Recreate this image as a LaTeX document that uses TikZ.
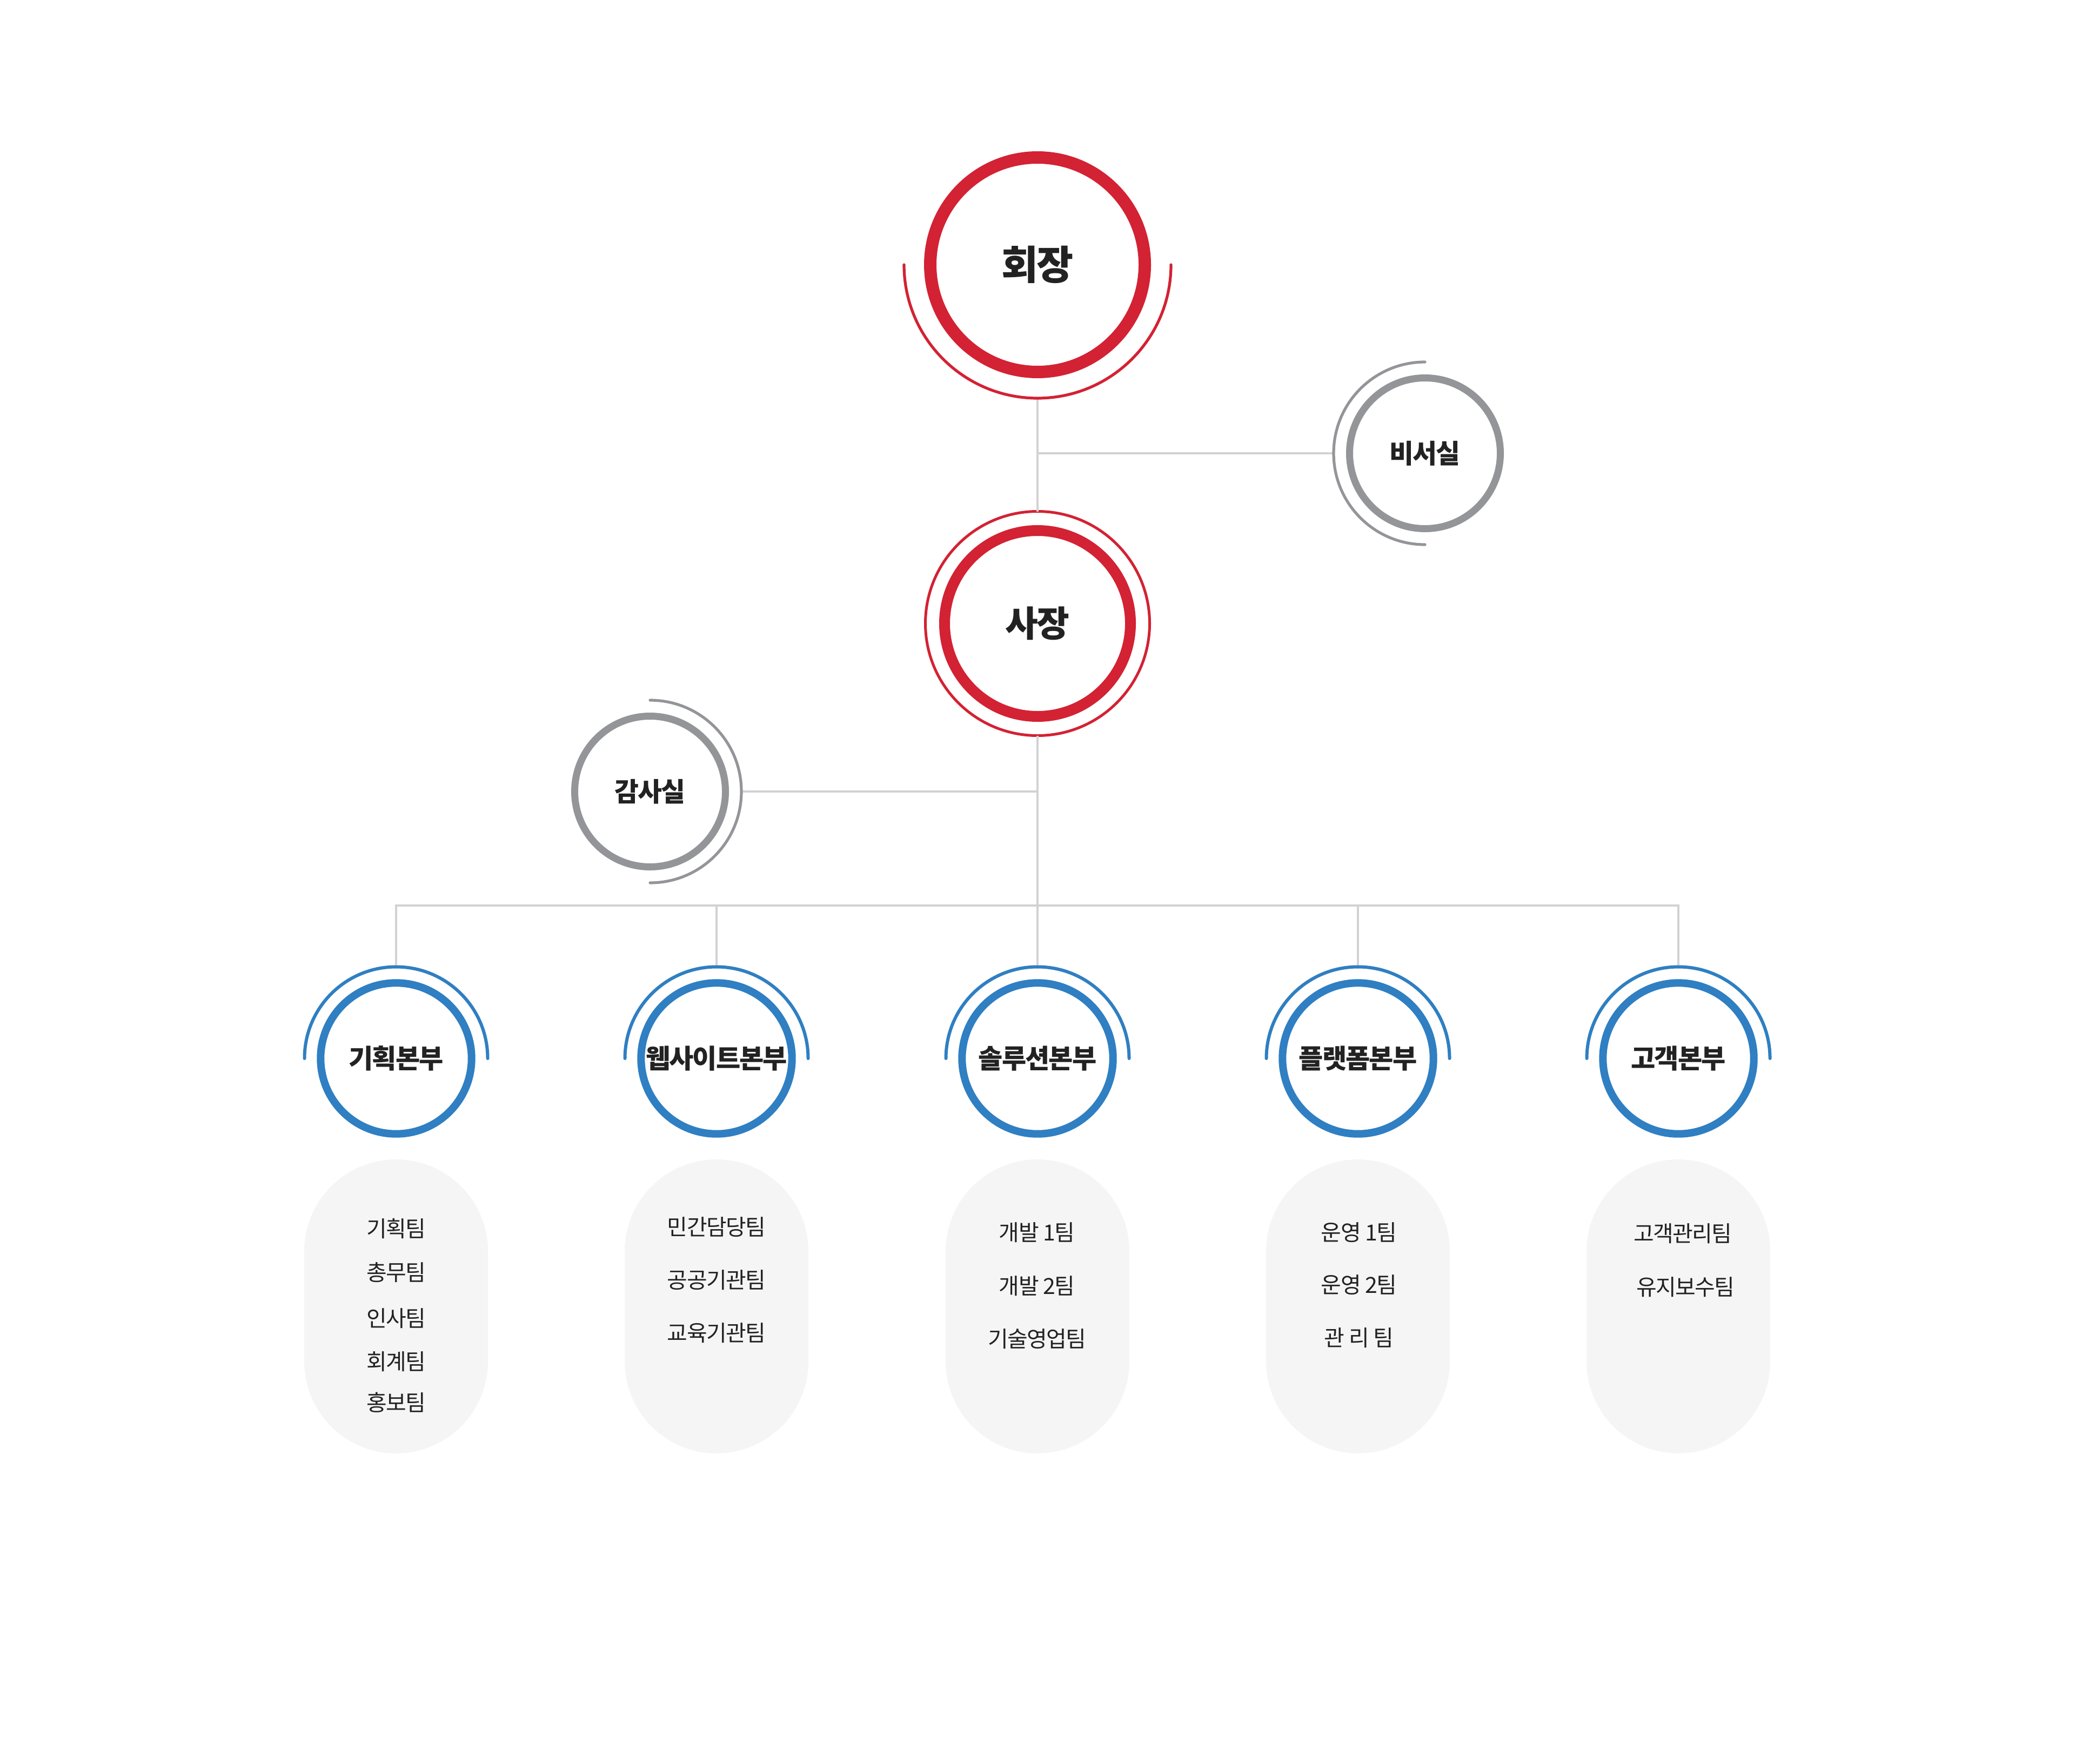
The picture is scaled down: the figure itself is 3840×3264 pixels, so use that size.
\documentclass[tikz,border=0pt]{standalone}
\usepackage{fontspec}
\newfontfamily\kr{Noto Sans CJK KR}
\newfontfamily\krsp{Noto Sans CJK KR}[LetterSpace=-4]
\definecolor{cred}{HTML}{D32233}
\definecolor{cblue}{HTML}{2F7FC2}
\definecolor{cgray}{HTML}{939598}
\definecolor{cline}{HTML}{D2D2D2}
\definecolor{cpill}{HTML}{F5F5F5}
\definecolor{ctext}{HTML}{222222}
\begin{document}
\begin{tikzpicture}[x=0.25pt,y=-0.25pt,
  ring/.style={circle, inner sep=0pt, outer sep=0pt, fill=white, text=ctext},
  chairring/.style={ring, draw=cred, line width=5.75pt, minimum size=99.25pt,
     font=\krsp\bfseries\fontsize{18.5pt}{20pt}\selectfont},
  presring/.style={ring, draw=cred, line width=5pt, minimum size=86pt,
     font=\krsp\bfseries\fontsize{16.5pt}{18pt}\selectfont},
  grayring/.style={ring, draw=cgray, line width=3.25pt, minimum size=69.75pt,
     font=\krsp\bfseries\fontsize{12.2pt}{13pt}\selectfont},
  bluering/.style={ring, draw=cblue, line width=3.5pt, minimum size=69.85pt,
     font=\krsp\bfseries\fontsize{12.3pt}{13pt}\selectfont},
  halo/.style={circle, inner sep=0pt, outer sep=0pt, minimum size=#1},
  thinarc/.style={line width=1.3pt, line cap=round},
  conn/.style={draw=cline, line width=1pt},
  pill/.style={rectangle, rounded corners=42.5pt, fill=cpill, minimum width=85pt,
     minimum height=136pt, inner sep=0pt, outer sep=0pt},
  team/.style={font=\krsp\fontsize{10.25pt}{12pt}\selectfont, text=ctext, inner sep=0pt}
]
\useasboundingbox (0,0) rectangle (3840,3264);

% halo (outer ring) nodes
\node[halo=123.5pt] (chairO) at (1920,490) {};
\node[halo=103.75pt, draw=cred, line width=1.25pt] (presO) at (1920,1154) {};
\node[halo=84.5pt] (secO) at (2637,839) {};
\node[halo=84.5pt] (audO) at (1203,1465) {};
\foreach \i/\x in {1/733,2/1326,3/1920,4/2513,5/3106}{
  \node[halo=84.75pt] (d\i O) at (\x,1959) {};
}
\coordinate (j1) at (1920,839);
\coordinate (j2) at (1920,1465);
\coordinate (bus) at (1920,1676);

% connectors
\draw[conn] (chairO.south) -- (presO.north);
\draw[conn] (j1) -- (secO.west);
\draw[conn] (presO.south) -- (d3O.north);
\draw[conn] (j2) -- (audO.east);
\draw[conn, line join=miter] (d1O.north) -- (d1O.north |- bus) -- (d5O.north |- bus) -- (d5O.north);
\draw[conn] (d2O.north |- bus) -- (d2O.north);
\draw[conn] (d4O.north |- bus) -- (d4O.north);

% thin arcs
\draw[cred, thinarc] (chairO.west) arc[start angle=180, end angle=0, radius=247];
\draw[cgray, thinarc] (secO.north) arc[start angle=270, end angle=90, radius=169];
\draw[cgray, thinarc] (audO.north) arc[start angle=-90, end angle=90, radius=169];
\foreach \i in {1,...,5}{
  \draw[cblue, thinarc, line width=1.5pt] (d\i O.west) arc[start angle=180, end angle=360, radius=169.5];
}

% main rings
\node[chairring] (chair) at (1920,490) {회장};
\node[presring] (pres) at (1920,1154) {사장};
\node[grayring] (sec) at (2637,839) {비서실};
\node[grayring] (aud) at (1203,1465) {감사실};
\node[bluering] (d1) at (733,1959) {기획본부};
\node[bluering] (d2) at (1326,1959) {웹사이트본부};
\node[bluering] (d3) at (1920,1959) {솔루션본부};
\node[bluering] (d4) at (2513,1959) {플랫폼본부};
\node[bluering] (d5) at (3106,1959) {고객본부};

% pills
\foreach \i/\x in {1/733,2/1326,3/1920,4/2513,5/3106}{
  \node[pill] (p\i) at (\x,2418) {};
}

% teams
\node[team] (t11) at (733,2274) {기획팀};
\node[team] (t12) at (733,2355) {총무팀};
\node[team] (t13) at (733,2440) {인사팀};
\node[team] (t14) at (733,2520) {회계팀};
\node[team] (t15) at (733,2596) {홍보팀};
\node[team] (t21) at (1326,2271) {민간담당팀};
\node[team] (t22) at (1326,2369) {공공기관팀};
\node[team] (t23) at (1326,2467) {교육기관팀};
\node[team] (t31) at (1919,2281) {개발 1팀};
\node[team] (t32) at (1919,2380) {개발 2팀};
\node[team] (t33) at (1919,2478) {기술영업팀};
\node[team] (t41) at (2515,2281) {운영 1팀};
\node[team] (t42) at (2515,2378) {운영 2팀};
\node[team] (t43) at (2515,2476) {관 리 팀};
\node[team] (t51) at (3114,2283) {고객관리팀};
\node[team] (t52) at (3119,2382) {유지보수팀};
\end{tikzpicture}
\end{document}
